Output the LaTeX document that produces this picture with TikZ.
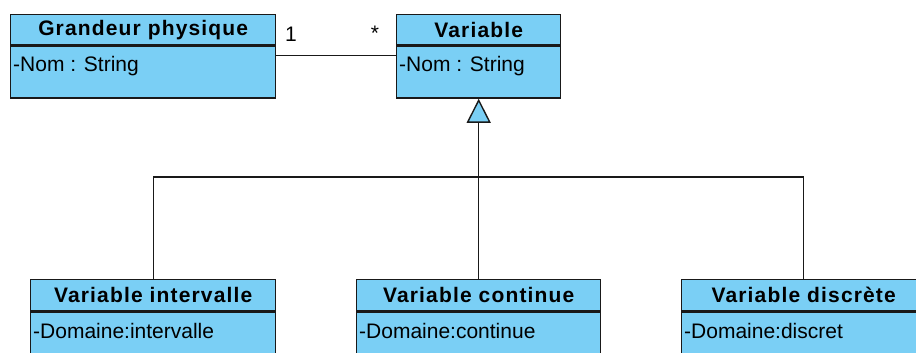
\documentclass[tikz,border=0pt]{standalone}
\usepackage{fontspec}
\setmainfont{Liberation Sans}
\newfontfamily\titlefam{Liberation Sans}[LetterSpace=5.5]
\usetikzlibrary{arrows.meta,calc}
\definecolor{umlblue}{RGB}{122,207,245}
\definecolor{umlline}{RGB}{25,25,25}
\tikzset{
  classhead/.style={draw=umlline, fill=umlblue, line width=1.4pt, inner sep=0pt,
    anchor=north west, font=\titlefam\bfseries\fontsize{21}{24}\selectfont},
  classbody/.style={draw=umlline, fill=umlblue, line width=1.4pt, inner sep=0pt,
    anchor=north west},
  attr/.style={anchor=west, inner sep=0pt, font=\fontsize{21}{24}\selectfont},
  mult/.style={inner sep=0pt, font=\fontsize{21}{24}\selectfont},
  conn/.style={draw=umlline, line width=1.4pt},
  inherit/.style={conn, -{Triangle[length=24pt,width=24pt,fill=umlblue,line join=miter]}}
}
\begin{document}
\begin{tikzpicture}[x=1pt,y=-1pt]
\useasboundingbox (0,0) rectangle (916,353);

% top classes
\node[classhead, minimum width=265pt, minimum height=30pt] (gp) at (10,14) {Grandeur physique};
\node[classbody, minimum width=265pt, minimum height=52pt] (gpB) at (gp.south west) {};
\node[attr] (gpA) at ($(gpB.north west)+(3,21)$) {-Nom : String};

\node[classhead, minimum width=164pt, minimum height=30pt] (var) at (396,14) {Variable};
\node[classbody, minimum width=164pt, minimum height=52pt] (varB) at (var.south west) {};
\node[attr] (varA) at ($(varB.north west)+(3,21)$) {-Nom : String};

% subclasses
\node[classhead, minimum width=245pt, minimum height=31pt] (iv) at (30,279) {Variable intervalle};
\node[classbody, minimum width=245pt, minimum height=60pt] (ivB) at (iv.south west) {};
\node[attr] (ivA) at ($(ivB.north west)+(3,20)$) {-Domaine:intervalle};

\node[classhead, minimum width=244pt, minimum height=31pt] (ct) at (356,279) {Variable continue};
\node[classbody, minimum width=244pt, minimum height=60pt] (ctB) at (ct.south west) {};
\node[attr] (ctA) at ($(ctB.north west)+(3,20)$) {-Domaine:continue};

\node[classhead, minimum width=244pt, minimum height=31pt] (ds) at (681,279) {Variable discrète};
\node[classbody, minimum width=244pt, minimum height=60pt] (dsB) at (ds.south west) {};
\node[attr] (dsA) at ($(dsB.north west)+(3,20)$) {-Domaine:discret};

% association with multiplicities
\draw[conn] ($(gpB.north east)+(0,10)$) -- ($(varB.north west)+(0,10)$);
\node[mult] (m1) at (291,34) {1};
\node[mult] (m2) at (375,33) {*};

% generalization tree
\coordinate (bus) at (ct.north |- 0,177);
\draw[conn] (iv.north) |- (bus) -| (ds.north);
\draw[inherit] (ct.north) -- (varB.south);
\end{tikzpicture}
\end{document}
